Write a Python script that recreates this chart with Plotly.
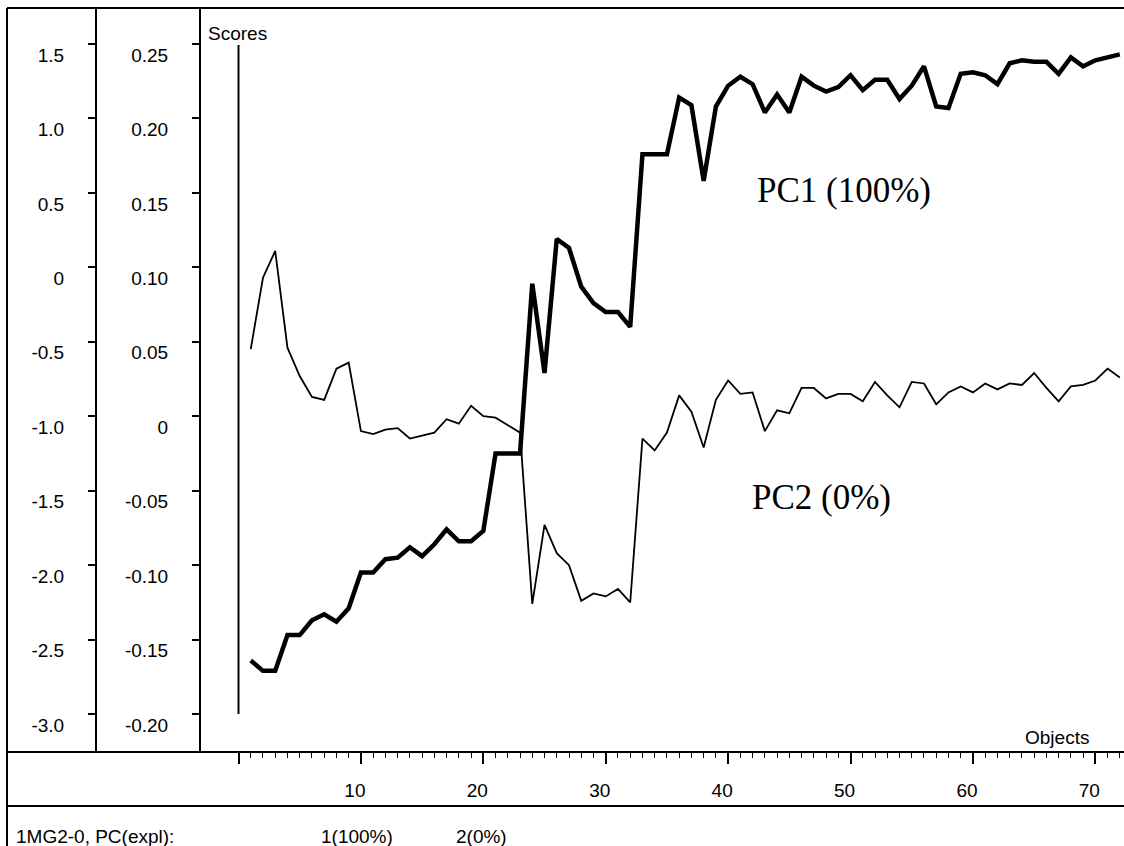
import plotly.graph_objects as go

objects = list(range(1, 73))

pc1_scores = [-2.64, -2.71, -2.71, -2.47, -2.47, -2.37, -2.33, -2.38, -2.29, -2.05,
              -2.05, -1.96, -1.95, -1.88, -1.94, -1.86, -1.76, -1.84, -1.84, -1.77,
              -1.25, -1.25, -1.25, -0.11, -0.71, 0.19, 0.13, -0.13, -0.24, -0.30,
              -0.30, -0.40, 0.76, 0.76, 0.76, 1.14, 1.09, 0.58, 1.08, 1.22,
              1.28, 1.23, 1.04, 1.16, 1.04, 1.28, 1.22, 1.18, 1.21, 1.29,
              1.19, 1.26, 1.26, 1.13, 1.22, 1.35, 1.08, 1.07, 1.30, 1.31,
              1.29, 1.23, 1.37, 1.39, 1.38, 1.38, 1.30, 1.41, 1.35, 1.39,
              1.41, 1.43]

pc2_scores = [0.045, 0.093, 0.111, 0.046, 0.027, 0.013, 0.011, 0.032, 0.036, -0.010,
              -0.012, -0.009, -0.008, -0.015, -0.013, -0.011, -0.002, -0.005, 0.007, 0.000,
              -0.001, -0.006, -0.011, -0.126, -0.073, -0.092, -0.100, -0.124, -0.119, -0.121,
              -0.116, -0.125, -0.015, -0.023, -0.011, 0.014, 0.003, -0.021, 0.011, 0.024,
              0.015, 0.016, -0.010, 0.004, 0.002, 0.019, 0.019, 0.012, 0.015, 0.015,
              0.010, 0.023, 0.014, 0.006, 0.023, 0.022, 0.008, 0.016, 0.020, 0.016,
              0.022, 0.018, 0.022, 0.021, 0.029, 0.019, 0.010, 0.020, 0.021, 0.024,
              0.032, 0.026]

pc1_ticks = [1.5, 1.0, 0.5, 0, -0.5, -1.0, -1.5, -2.0, -2.5, -3.0]
pc1_ticktext = ["1.5", "1.0", "0.5", "0", "-0.5", "-1.0", "-1.5", "-2.0", "-2.5", "-3.0"]
pc2_ticks = [0.25, 0.20, 0.15, 0.10, 0.05, 0, -0.05, -0.10, -0.15, -0.20]
pc2_ticktext = ["0.25", "0.20", "0.15", "0.10", "0.05", "0", "-0.05", "-0.10", "-0.15", "-0.20"]
x_ticks = [0, 10, 20, 30, 40, 50, 60, 70]
x_ticktext = ["", "10", "20", "30", "40", "50", "60", "70"]

W, H = 1124, 846
SANS = "Liberation Sans, Arial, sans-serif"
SERIF = "Liberation Serif, Times New Roman, serif"
FS = 19

def px(x):
    return x / W

def py(y):
    return 1 - y / H

fig = go.Figure()
fig.add_trace(go.Scatter(x=objects, y=pc2_scores, mode="lines", yaxis="y2",
                         line=dict(color="black", width=1.8), name="PC2"))
fig.add_trace(go.Scatter(x=objects, y=pc1_scores, mode="lines", yaxis="y",
                         line=dict(color="black", width=4.5), name="PC1"))

ydom = [py(752), py(8)]
tickcommon = dict(ticks="outside", tickcolor="black", tickwidth=1.5, ticklen=8,
                  showgrid=False, zeroline=False, showline=False,
                  tickfont=dict(family=SANS, size=FS, color="black"))

fig.update_layout(
    width=W, height=H,
    margin=dict(l=0, r=0, t=0, b=0),
    paper_bgcolor="white", plot_bgcolor="white",
    showlegend=False,
    xaxis=dict(domain=[px(238.5), 1], range=[0, 72.34], anchor="y",
               showgrid=False, zeroline=False, showline=False,
               ticks="outside", ticklen=11, tickwidth=2, tickcolor="black",
               tickvals=x_ticks, ticktext=x_ticktext,
               tickfont=dict(family=SANS, size=FS, color="black"),
               ticklabelshift=-6, ticklabelstandoff=10,
               minor=dict(ticks="outside", ticklen=5, tickwidth=1.2, tickcolor="black",
                          dtick=1, tick0=0, showgrid=False)),
    yaxis=dict(domain=ydom, range=[-3.255, 1.7416], anchor="free", position=px(96),
               side="left", tickvals=pc1_ticks, ticktext=pc1_ticktext,
               ticklabelshift=11, ticklabelstandoff=20, **tickcommon),
    yaxis2=dict(range=[-0.2255, 0.27416], overlaying="y", anchor="free", position=px(200),
                side="left", tickvals=pc2_ticks, ticktext=pc2_ticktext,
                ticklabelshift=11, ticklabelstandoff=20, **tickcommon),
)

line = dict(color="black", width=2)
shapes = [
    dict(type="line", xref="paper", yref="paper", x0=px(7), x1=px(7), y0=0, y1=py(8), line=line),
    dict(type="line", xref="paper", yref="paper", x0=px(7), x1=1, y0=py(8), y1=py(8), line=line),
    dict(type="line", xref="paper", yref="paper", x0=px(96), x1=px(96), y0=py(752), y1=py(8), line=line),
    dict(type="line", xref="paper", yref="paper", x0=px(200), x1=px(200), y0=py(752), y1=py(8), line=line),
    dict(type="line", xref="paper", yref="paper", x0=px(7), x1=1, y0=py(752), y1=py(752), line=line),
    dict(type="line", xref="paper", yref="paper", x0=px(7), x1=1, y0=py(806), y1=py(806), line=line),
    dict(type="line", xref="paper", yref="paper", x0=px(238.5), x1=px(238.5),
         y0=py(714), y1=py(45), line=line),
]
fig.update_layout(shapes=shapes)

def ann(text, x, y, xanchor="left", family=SANS, size=FS):
    fig.add_annotation(text=text, x=px(x), y=py(y), xref="paper", yref="paper",
                       xanchor=xanchor, yanchor="middle", showarrow=False,
                       font=dict(family=family, size=size, color="black"))

ann("Scores", 206, 34)
ann("Objects", 1091, 737, xanchor="right")
ann("1MG2-0, PC(expl):", 14, 836)
ann("1(100%)", 319, 836)
ann("2(0%)", 454, 836)
ann("PC1 (100%)", 755, 190, family=SERIF, size=35)
ann("PC2 (0%)", 750, 497, family=SERIF, size=35)

fig.write_html("out.html", config={"displayModeBar": False},
               post_script="document.body.style.margin='0';document.body.style.padding='0';")
